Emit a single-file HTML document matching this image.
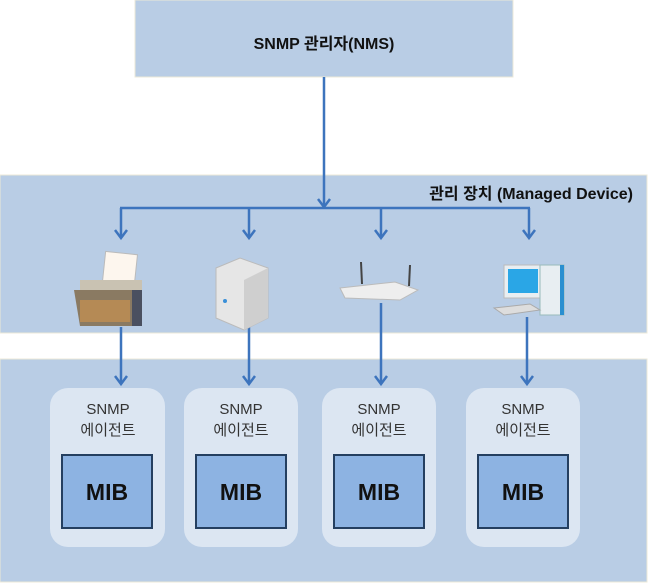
<!DOCTYPE html>
<html><head><meta charset="utf-8"><style>
html,body{margin:0;padding:0;background:#fff;}
svg{display:block;}
text{font-family:"Liberation Sans","Noto Sans CJK KR",sans-serif;}
</style></head><body>
<svg width="649" height="583" viewBox="0 0 649 583" xmlns="http://www.w3.org/2000/svg">
<rect x="135" y="0" width="378" height="77" fill="#b9cde5" stroke="#ece9d8" stroke-width="1"/>
<text x="324" y="49" font-size="16" font-weight="bold" text-anchor="middle" fill="#111">SNMP 관리자(NMS)</text>
<rect x="0" y="175" width="647" height="158" fill="#b9cde5" stroke="#ece9d8"/>
<rect x="0" y="359" width="647" height="223" fill="#b9cde5" stroke="#ece9d8"/>
<text x="633" y="199" font-size="16" font-weight="bold" text-anchor="end" fill="#111">관리 장치 (Managed Device)</text>
<g stroke="#3d74bd" stroke-width="2.5" fill="none">
<line x1="324" y1="77" x2="324" y2="207"/>
<path d="M318,199 L324,207 L330,199"/>
<line x1="120" y1="208" x2="530" y2="208"/>
<line x1="121" y1="208" x2="121" y2="238"/>
<line x1="249" y1="208" x2="249" y2="238"/>
<line x1="381" y1="208" x2="381" y2="238"/>
<line x1="529" y1="208" x2="529" y2="238"/>
<path d="M115,230 L121,238 L127,230"/>
<path d="M243,230 L249,238 L255,230"/>
<path d="M375,230 L381,238 L387,230"/>
<path d="M523,230 L529,238 L535,230"/>
<line x1="121" y1="327" x2="121" y2="384"/>
<line x1="249" y1="327" x2="249" y2="384"/>
<line x1="381" y1="303" x2="381" y2="384"/>
<line x1="527" y1="317" x2="527" y2="384"/>
<path d="M115,376 L121,384 L127,376"/>
<path d="M243,376 L249,384 L255,376"/>
<path d="M375,376 L381,384 L387,376"/>
<path d="M521,376 L527,384 L533,376"/>
</g>
<!-- printer -->
<g>
<rect x="104" y="253" width="32" height="30" fill="#fdf6ee" stroke="#bbb" transform="rotate(6 120 268)"/>
<rect x="80" y="280" width="62" height="12" fill="#c9c2b2"/>
<path d="M74,290 L140,290 L142,326 L80,326 Z" fill="#8a7a62"/>
<rect x="80" y="300" width="50" height="22" fill="#b58a55"/>
<rect x="132" y="290" width="10" height="36" fill="#4a5060"/>
</g>
<!-- server -->
<g>
<path d="M216,268 L240,258 L268,268 L268,318 L244,330 L216,318 Z" fill="#e6e6e6" stroke="#bbb"/>
<path d="M244,280 L268,268 L268,318 L244,330 Z" fill="#cfcfcf"/>
<circle cx="225" cy="301" r="2" fill="#3a8fd8"/>
</g>
<!-- router -->
<g>
<line x1="361" y1="262" x2="362" y2="284" stroke="#444" stroke-width="2"/>
<line x1="410" y1="265" x2="409" y2="286" stroke="#444" stroke-width="2"/>
<path d="M340,288 L395,282 L418,290 L400,300 L345,298 Z" fill="#eeeeee" stroke="#bbb"/>
</g>
<!-- pc -->
<g>
<rect x="504" y="265" width="38" height="33" fill="#e8eef2" stroke="#bbb"/>
<rect x="508" y="269" width="30" height="24" fill="#2aa6e6"/>
<rect x="540" y="265" width="24" height="50" fill="#e8eef2" stroke="#9bb"/>
<rect x="560" y="265" width="4" height="50" fill="#2a8fd0"/>
<path d="M494,308 L530,304 L540,310 L504,315 Z" fill="#ddd" stroke="#aaa"/>
</g>
<!-- cards -->
<g font-size="15" fill="#333" text-anchor="middle">
<rect x="50" y="388" width="115" height="159" rx="18" fill="#dce6f2"/>
<rect x="184" y="388" width="114" height="159" rx="18" fill="#dce6f2"/>
<rect x="322" y="388" width="114" height="159" rx="18" fill="#dce6f2"/>
<rect x="466" y="388" width="114" height="159" rx="18" fill="#dce6f2"/>
<text x="108" y="414">SNMP</text><text x="108" y="435">에이전트</text>
<text x="241" y="414">SNMP</text><text x="241" y="435">에이전트</text>
<text x="379" y="414">SNMP</text><text x="379" y="435">에이전트</text>
<text x="523" y="414">SNMP</text><text x="523" y="435">에이전트</text>
</g>
<g fill="#8db3e2" stroke="#243f60" stroke-width="2">
<rect x="62" y="455" width="90" height="73"/>
<rect x="196" y="455" width="90" height="73"/>
<rect x="334" y="455" width="90" height="73"/>
<rect x="478" y="455" width="90" height="73"/>
</g>
<g font-size="23" font-weight="bold" fill="#111" text-anchor="middle">
<text x="107" y="500">MIB</text>
<text x="241" y="500">MIB</text>
<text x="379" y="500">MIB</text>
<text x="523" y="500">MIB</text>
</g>
</svg>
</body></html>
